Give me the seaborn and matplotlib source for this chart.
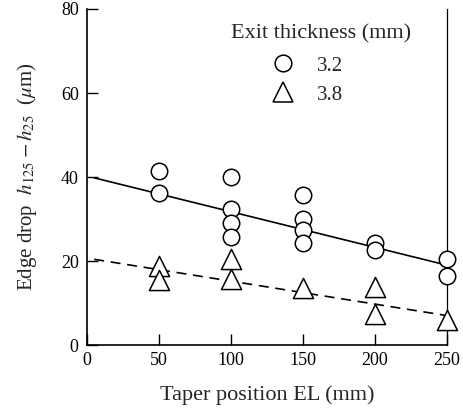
import matplotlib
matplotlib.use("Agg")
import matplotlib.pyplot as plt
import seaborn as sns
import pandas as pd
from matplotlib.lines import Line2D

# data
x_32 = [50, 50, 100, 100, 100, 100, 150, 150, 150, 150, 200, 200, 250, 250]
y_32 = [41.4, 36.1, 40.1, 32.3, 29.0, 25.7, 35.7, 30.0, 27.4, 24.4, 24.4, 22.5, 20.4, 16.4]
x_38 = [50, 50, 100, 100, 150, 200, 200, 250]
y_38 = [18.9, 15.5, 20.4, 15.7, 13.5, 13.9, 7.5, 6.0]
line_x = [5, 250]
line_32 = [39.8, 19.0]
line_38 = [20.4, 7.0]
x_ticks = [0, 50, 100, 150, 200, 250]
y_ticks = [0, 20, 40, 60, 80]
legend_title = "Exit thickness (mm)"
legend_labels = ["3.2", "3.8"]

sns.set_style("ticks")
plt.rcParams['font.family'] = ['Liberation Serif', 'DejaVu Serif']
plt.rcParams['mathtext.fontset'] = 'stix'

W, H = 463, 415
fig = plt.figure(figsize=(W / 100, H / 100), dpi=100)
ax = fig.add_axes([87 / W, 1 - 345 / H, (447 - 87) / W, (345 - 9) / H])

df32 = pd.DataFrame({"x": x_32, "y": y_32})
df38 = pd.DataFrame({"x": x_38, "y": y_38})
sns.lineplot(x=line_x, y=line_32, ax=ax, color="black", lw=1.2)
sns.lineplot(x=line_x, y=line_38, ax=ax, color="black", lw=1.2, linestyle=(0, (6, 4)))
sns.scatterplot(data=df32, x="x", y="y", ax=ax, marker="o", s=140, clip_on=False,
                facecolor="white", edgecolor="black", linewidth=1.1, zorder=3)
sns.scatterplot(data=df38, x="x", y="y", ax=ax, marker="^", s=210, clip_on=False,
                facecolor="white", edgecolor="black", linewidth=1.1, zorder=3)

ax.set_xlim(0, 250)
ax.set_ylim(0, 80)
ax.set_xticks(x_ticks)
ax.set_yticks(y_ticks)
ax.tick_params(direction="in", length=8, width=1, labelsize=13, colors="black")
ax.tick_params(axis="x", pad=5)
ax.tick_params(axis="y", pad=6)
for s in ["left", "bottom", "right"]:
    ax.spines[s].set_visible(True)
    ax.spines[s].set_linewidth(1.2)
    ax.spines[s].set_color("black")
ax.spines["right"].set_linewidth(0.9)
ax.spines["top"].set_visible(False)

ax.set_xlabel("Taper position EL (mm)", fontsize=16, labelpad=12)
ax.set_ylabel(r"Edge drop  $h_{125}-h_{25}$  ($\mu$m)", fontsize=15, labelpad=16)

fig.text(321 / W, 1 - 34 / H, legend_title, fontsize=16, ha="center", va="center")
handles = [Line2D([], [], marker="o", ls="", mfc="white", mec="black", ms=12, mew=1.1),
           Line2D([], [], marker="^", ls="", mfc="white", mec="black", ms=14, mew=1.1)]
leg = fig.legend(handles, legend_labels, frameon=False, loc="upper left",
                 bbox_to_anchor=(273 / W, 1 - 56 / H), fontsize=15,
                 handlelength=1.0, handletextpad=1.1, labelspacing=0.45,
                 borderpad=0, borderaxespad=0)

fig.savefig("out.png", dpi=100)
